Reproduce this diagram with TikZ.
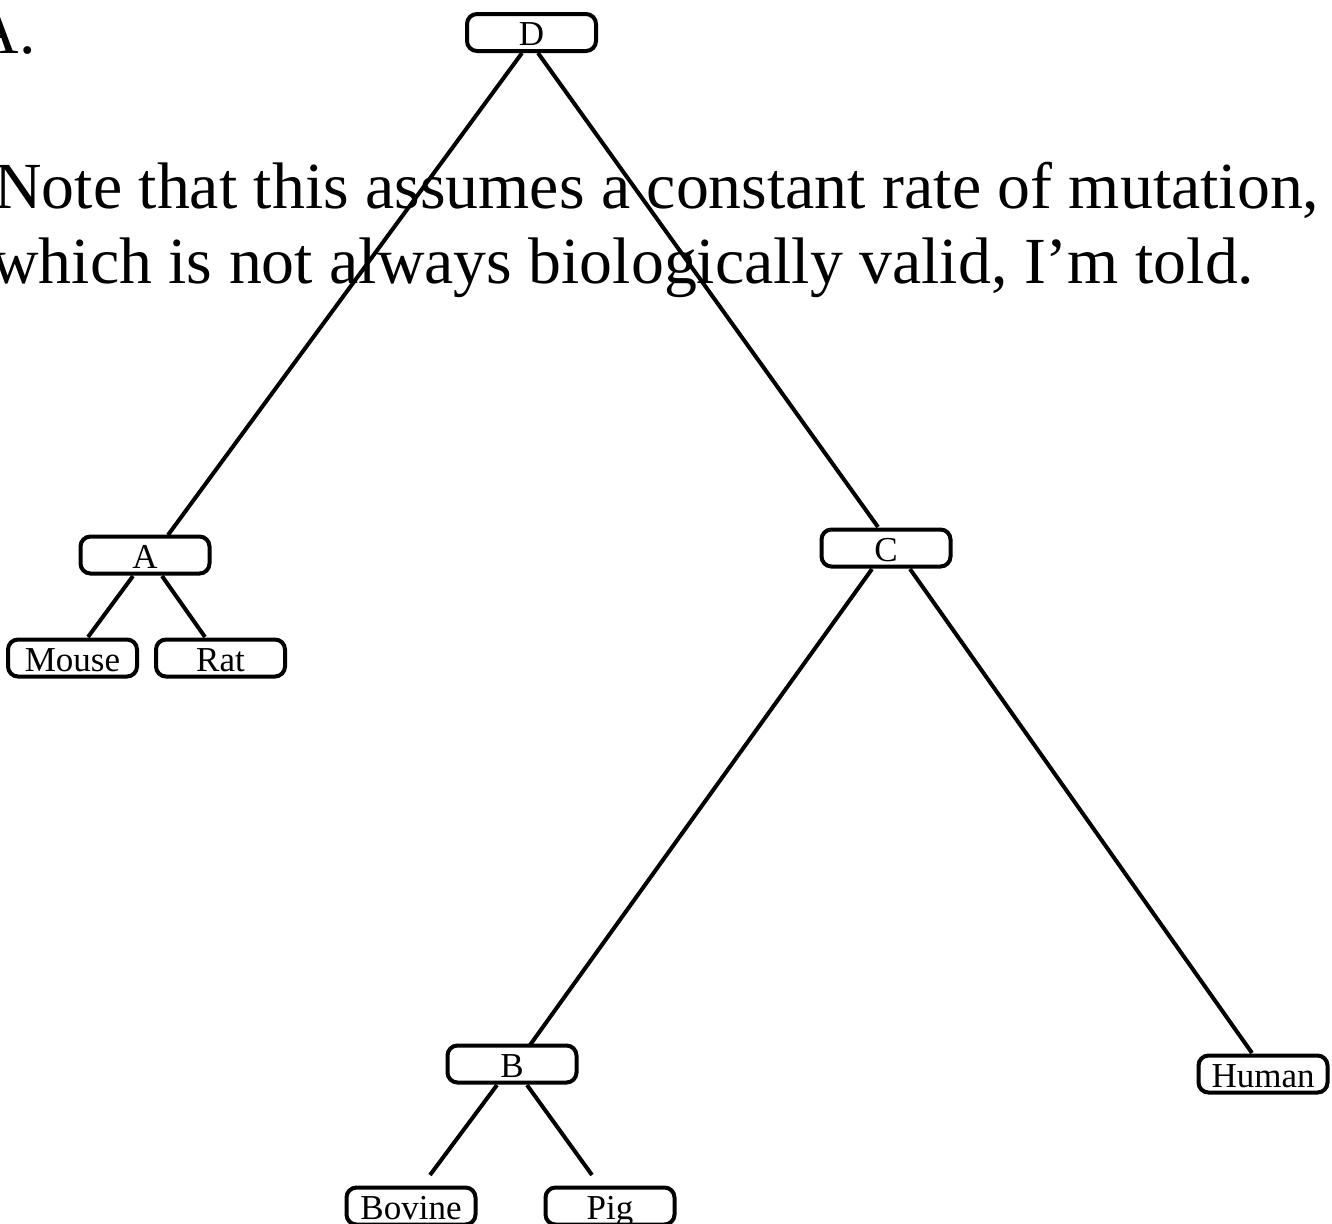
\documentclass[tikz,border=0pt]{standalone}
\usepackage{fontspec}
\setmainfont{Liberation Serif}
\usetikzlibrary{calc}
\begin{document}
\begin{tikzpicture}[x=0.5pt,y=-0.5pt,
  taxon/.style={draw, line width=2pt, rounded corners=5pt, minimum width=64.5pt,
    minimum height=18.5pt, inner sep=0pt, text height=13pt, text depth=0pt,
    font=\fontsize{17.5pt}{20pt}\selectfont},
  bigtext/.style={inner sep=0pt, font=\fontsize{32.9pt}{37.5pt}\selectfont},
  edge/.style={line width=2pt}]
\useasboundingbox (0,0) rectangle (1332,1223);
\clip (0,0) rectangle (1332,1223);
% text
\node[bigtext, anchor=base east] (ta) at (36,53) {A.};
\node[bigtext, anchor=base west] (t1) at (-6,208) {Note that this assumes a constant rate of mutation,};
\node[bigtext, anchor=base west] (t2) at (-9,283) {which is not always biologically valid, I’m told.};
% nodes
\node[taxon] (D) at (531.5,32.5) {D};
\node[taxon] (A) at (145,555) {A};
\node[taxon] (C) at (886,548) {C};
\node[taxon] (B) at (512,1064) {B};
\node[taxon] (Mouse) at (72.5,658) {Mouse};
\node[taxon] (Rat) at (220.5,658) {Rat};
\node[taxon] (Human) at (1263,1074) {Human};
\node[taxon] (Bovine) at (411,1206) {Bovine};
\node[taxon] (Pig) at (610,1206) {Pig};
% connectors
\draw[edge] ($(D)+(-9.5,20.5)$) -- ($(A)+(23,-20)$);
\draw[edge] ($(D)+(6.5,20.5)$) -- ($(C)+(-8,-21)$);
\draw[edge] ($(A)+(-12,21)$) -- ($(Mouse)+(15.5,-21)$);
\draw[edge] ($(A)+(17,21)$) -- ($(Rat)+(-15.5,-21)$);
\draw[edge] ($(C)+(-14,21)$) -- ($(B)+(18,-19)$);
\draw[edge] ($(C)+(24,21)$) -- ($(Human)+(-11,-21)$);
\draw[edge] ($(B)+(-15,21)$) -- ($(Bovine)+(19,-31)$);
\draw[edge] ($(B)+(15,21)$) -- ($(Pig)+(-18,-31)$);
\end{tikzpicture}
\end{document}
